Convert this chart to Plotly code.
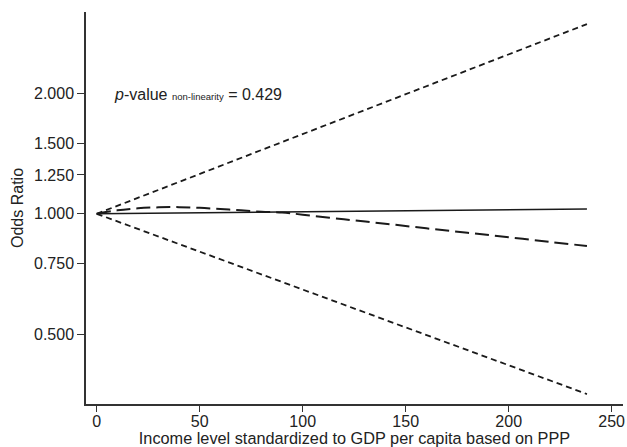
import math
import plotly.graph_objects as go

# Data (odds ratios vs income level)
x_lin = [0, 50, 100, 150, 200, 238]
or_linear = [1.000, 1.006, 1.012, 1.018, 1.024, 1.028]
ci_upper = [1.000, 1.257, 1.581, 1.988, 2.500, 2.975]
ci_lower = [1.000, 0.804, 0.647, 0.520, 0.418, 0.355]

x_spl = [0, 10, 20, 30, 40, 50, 60, 70, 80, 90, 100, 120, 140, 160, 180, 200, 220, 238]
or_spline = [1.000, 1.020, 1.032, 1.038, 1.039, 1.035, 1.028, 1.020, 1.012, 1.008,
             0.995, 0.969, 0.945, 0.920, 0.897, 0.874, 0.851, 0.831]

y_tickvals = [0.5, 0.75, 1.0, 1.25, 1.5, 2.0]
y_ticktext = ["0.500", "0.750", "1.000", "1.250", "1.500", "2.000"]
x_tickvals = [0, 50, 100, 150, 200, 250]

FONT = "Liberation Sans, Arial, sans-serif"
INK = "#222222"

fig = go.Figure()
fig.add_trace(go.Scatter(x=x_lin, y=ci_upper, mode="lines",
                         line=dict(color="#1a1a1a", width=1.8, dash="6px,4px"), showlegend=False))
fig.add_trace(go.Scatter(x=x_lin, y=ci_lower, mode="lines",
                         line=dict(color="#1a1a1a", width=1.8, dash="6px,4px"), showlegend=False))
fig.add_trace(go.Scatter(x=x_spl, y=or_spline, mode="lines", line_shape="spline",
                         line=dict(color="#1a1a1a", width=2, dash="14px,6px"), showlegend=False))
fig.add_trace(go.Scatter(x=x_lin, y=or_linear, mode="lines",
                         line=dict(color="#1a1a1a", width=1.6), showlegend=False))

fig.add_annotation(x=7.5, y=math.log10(2.0), xref="x", yref="y", xanchor="left", yanchor="middle",
                   yshift=-1,
                   text="<i>p</i>-value <span style='font-size:9.5px'>non-linearity</span> = 0.429",
                   showarrow=False, font=dict(family=FONT, size=16, color=INK))

fig.update_layout(
    width=627, height=447,
    margin=dict(l=86, r=4, t=12, b=43, autoexpand=False),
    paper_bgcolor="white", plot_bgcolor="white",
    font=dict(family=FONT, size=16, color=INK),
    xaxis=dict(range=[-5.2, 255.5], tickvals=x_tickvals, ticks="outside", ticklen=6,
               tickwidth=1.3, tickcolor="#333", showline=True, linecolor="#333", linewidth=1.5,
               showgrid=False, zeroline=False, automargin=False, ticklabelstandoff=-4,
               title=dict(text="Income level standardized to GDP per capita based on PPP",
                          standoff=0, font=dict(size=16.3)),
               tickfont=dict(size=16)),
    yaxis=dict(type="log", range=[-0.4746, 0.5036], tickvals=y_tickvals, ticktext=y_ticktext,
               ticks="outside", ticklen=7, tickwidth=1.3, tickcolor="#333", automargin=False,
               ticklabelstandoff=0,
               showline=True, linecolor="#333", linewidth=1.5, showgrid=False, zeroline=False,
               title=dict(text="Odds Ratio", standoff=6, font=dict(size=16)),
               tickfont=dict(size=16)),
)

fig.write_html("out.html", config={"displayModeBar": False},
               post_script="document.body.style.margin='0px';")
